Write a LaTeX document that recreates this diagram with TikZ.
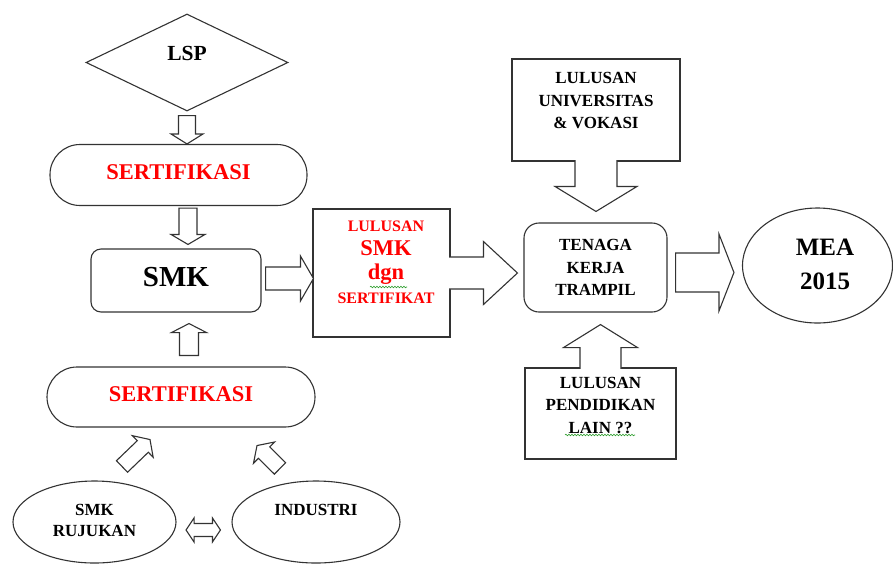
\documentclass[tikz,border=0pt]{standalone}
\usepackage{fontspec}
\setmainfont{Liberation Serif}
\usetikzlibrary{shapes.geometric,calc,decorations.pathmorphing}

\definecolor{edge}{HTML}{333333}
\definecolor{squig}{HTML}{2E9E2E}

% block arrow: shaft half width, head half width, head length, start, tip
\newcommand{\barrow}[5]{%
\coordinate (bs) at #4; \coordinate (be) at #5;
\coordinate (hb) at ($(be)!#3!(bs)$);
\draw[blk]($(bs)!#1!90:(be)$)--($(hb)!#1!90:(be)$)--($(hb)!#2!90:(be)$)--(be)
 --($(hb)!#2!-90:(be)$)--($(hb)!#1!-90:(be)$)--($(bs)!#1!-90:(be)$)--cycle;}
% same, growing out of a box edge (open at the base)
\newcommand{\carrow}[5]{%
\coordinate (bs) at #4; \coordinate (be) at #5;
\coordinate (bi) at ($(bs)!-1.5pt!(be)$);
\coordinate (hb) at ($(be)!#3!(bs)$);
\draw[blk]($(bi)!#1!90:(be)$)--($(hb)!#1!90:(be)$)--($(hb)!#2!90:(be)$)--(be)
 --($(hb)!#2!-90:(be)$)--($(hb)!#1!-90:(be)$)--($(bi)!#1!-90:(be)$);}
% double headed block arrow
\newcommand{\dbarrow}[5]{%
\coordinate (bs) at #4; \coordinate (be) at #5;
\coordinate (ha) at ($(bs)!#3!(be)$); \coordinate (hb) at ($(be)!#3!(bs)$);
\draw[blk](bs)--($(ha)!#2!90:(be)$)--($(ha)!#1!90:(be)$)--($(hb)!#1!90:(be)$)
 --($(hb)!#2!90:(be)$)--(be)--($(hb)!#2!-90:(be)$)--($(hb)!#1!-90:(be)$)
 --($(ha)!#1!-90:(be)$)--($(ha)!#2!-90:(be)$)--cycle;}

\begin{document}
\begin{tikzpicture}[x=1pt,y=-1pt,
  box/.style={draw=edge,line width=1.1pt,inner sep=0pt,fill=white},
  pill/.style={box,rectangle,rounded corners=30pt,minimum width=#1,minimum height=61pt},
  txt/.style={font=\bfseries\fontsize{17}{22.5}\selectfont,align=center,inner sep=0pt},
  blk/.style={draw=edge,line width=1.1pt,fill=white,line join=miter},
  wavy/.style={draw=squig,line width=0.6pt,decorate,decoration={snake,segment length=3pt,amplitude=0.8pt}}]
\useasboundingbox (0,0) rectangle (893,563);

% left column
\node[box,diamond,minimum width=202pt,minimum height=97pt,
  label={[txt,font=\bfseries\fontsize{21.5}{24}\selectfont,yshift=8.8pt]center:LSP}] (lsp) at (187,62.5) {};
\node[pill=257pt,label={[txt,red,font=\bfseries\fontsize{22.5}{24}\selectfont,yshift=2.7pt]center:SERTIFIKASI}] (sert1) at (178.5,175) {};
\node[box,rectangle,rounded corners=10pt,minimum width=170pt,minimum height=63pt,
  label={[txt,font=\bfseries\fontsize{29}{30}\selectfont,yshift=3pt]center:SMK}] (smk) at (176,280.5) {};
\node[pill=268pt,minimum height=60pt,label={[txt,red,font=\bfseries\fontsize{22.5}{24}\selectfont,yshift=2.8pt]center:SERTIFIKASI}] (sert2) at (181,397) {};
\node[box,ellipse,minimum width=163pt,minimum height=82pt,
  label={[txt,font=\bfseries\fontsize{17}{20.7}\selectfont,yshift=1.3pt]center:SMK\\RUJUKAN}] (rujukan) at (94.5,522) {};
\node[box,ellipse,minimum width=168pt,minimum height=82pt,
  label={[txt,yshift=11.7pt]center:INDUSTRI}] (industri) at (316,522) {};

% middle and right
\node[box,rectangle,minimum width=137pt,minimum height=128pt,
  label={[txt,red,font=\bfseries\fontsize{16}{24}\selectfont,xshift=4.5pt,yshift=10.5pt]center:LULUSAN\\{\fontsize{22.5}{24}\selectfont SMK}\\{\fontsize{22.5}{24}\selectfont dgn}\\SERTIFIKAT}] (lsmk) at (381.5,273) {};
\node[box,rectangle,minimum width=168pt,minimum height=102pt,
  label={[txt,yshift=9.5pt]center:LULUSAN\\UNIVERSITAS\\\& VOKASI}] (luniv) at (596,110) {};
\node[box,rectangle,rounded corners=15pt,minimum width=143pt,minimum height=89pt,
  label={[txt]center:TENAGA\\KERJA\\TRAMPIL}] (tenaga) at (595.5,267.5) {};
\node[box,rectangle,minimum width=151pt,minimum height=91pt,
  label={[txt,yshift=8.5pt]center:LULUSAN\\PENDIDIKAN\\LAIN ??}] (lpend) at (600.5,413.5) {};
\node[box,ellipse,minimum width=150pt,minimum height=115pt,
  label={[txt,font=\bfseries\fontsize{25}{33.5}\selectfont,xshift=7.5pt,yshift=1pt]center:MEA\\2015}] (mea) at (817.5,265.5) {};

% block arrows
\barrow{8.5pt}{16pt}{10pt}{([yshift=-4pt]lsp.south)}{(lsp.south |- sert1.north)}
\barrow{9pt}{17pt}{10pt}{($(lsp.south |- sert1.south)+(1,2)$)}{($(lsp.south |- smk.north)+(1,-4)$)}
\barrow{9.5pt}{17.5pt}{9pt}{($(lsp.south |- sert2.north)+(2,-11)$)}{($(lsp.south |- smk.south)+(2,11)$)}
\barrow{8pt}{15pt}{10pt}{($(rujukan.north)+(27.5,-14)$)}{($(sert2.south)+(-31,12)$)}
\barrow{8pt}{15pt}{10pt}{($(industri.north)+(-36,-12)$)}{($(sert2.south)+(76,18)$)}
\dbarrow{6.5pt}{12pt}{8pt}{($(rujukan.east)+(9.5,8)$)}{($(industri.west)+(-11,8)$)}
\barrow{11.5pt}{22.5pt}{13pt}{($(smk.east)+(4,-2)$)}{($(smk.east -| lsmk.west)+(1,-2)$)}
\carrow{16pt}{31.5pt}{34pt}{(lsmk.east)}{($(lsmk.east -| tenaga.west)+(-6,0)$)}
\carrow{21pt}{41pt}{25pt}{(luniv.south)}{($(luniv.south |- tenaga.north)+(0,-11)$)}
\carrow{20.5pt}{37pt}{23pt}{(lpend.north)}{($(lpend.north |- tenaga.south)+(0,12)$)}
\barrow{19.5pt}{38.5pt}{15pt}{($(tenaga.east)+(8,5)$)}{($(tenaga.east -| mea.west)+(-8,5)$)}

% spelling marks
\draw[wavy] ($(lsmk.center)+(-11.5,14)$) -- ($(lsmk.center)+(25.5,14)$);
\draw[wavy] ($(lpend.center)+(-35.5,21.5)$) -- ($(lpend.center)+(34.5,21.5)$);
\end{tikzpicture}
\end{document}
